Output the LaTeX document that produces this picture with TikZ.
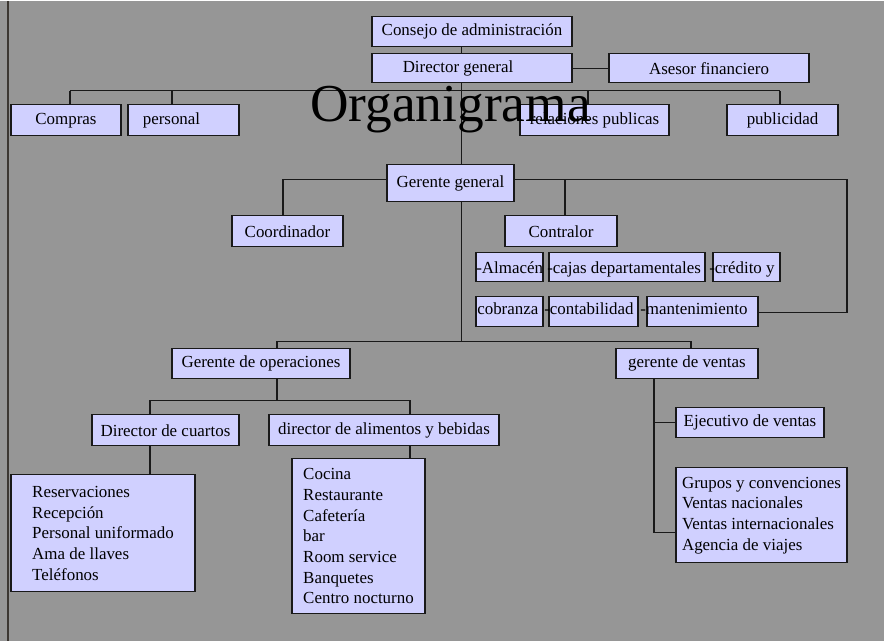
\documentclass[tikz,border=0pt]{standalone}
\usepackage{fontspec}
\setmainfont{Liberation Serif}
\definecolor{bg}{RGB}{150,150,150}
\definecolor{boxfill}{RGB}{208,208,255}
\definecolor{ln}{RGB}{25,25,25}
\begin{document}
\begin{tikzpicture}[x=0.75pt,y=-0.75pt,
  font=\fontsize{12.7}{15.5}\selectfont,
  box/.style={draw=ln, line width=0.9pt, fill=boxfill, inner sep=0pt, align=center},
  wd/.style={minimum width=#1*0.75pt},
  ht/.style={minimum height=#1*0.75pt},
  conn/.style={draw=ln, line width=0.9pt},
  lbl/.style={inner sep=0pt, anchor=base west}]
% background and page frame
\fill[bg] (0,0) rectangle (884,640);
\draw[line width=1.2pt, draw={rgb,255:red,60;green,55;blue,50}] (8,0) -- (8,640);
% top level
\node[box, wd=200, ht=30] (cons) at (472,31) {Consejo de administración};
\node[box, wd=200, ht=29] (dir) at (472,67.5) {\hspace*{-21pt}Director general};
\node[box, wd=200, ht=29] (ase) at (709,67.5) {Asesor financiero};
\node[box, wd=110, ht=31] (comp) at (66,119.5) {Compras};
\node[box, wd=111, ht=31] (pers) at (183.5,119.5) {\hspace*{-18pt}personal};
\node[box, wd=149, ht=31] (rel) at (594.5,119.5) {relaciones publicas};
\node[box, wd=111, ht=31] (pub) at (782.5,119.5) {publicidad};
% gerente general level
\node[box, wd=127, ht=37] (gg) at (450.5,182.5) {Gerente general};
\node[box, wd=111, ht=31] (coord) at (287.5,230.5) {Coordinador};
\node[box, wd=112, ht=31] (contr) at (561,230.5) {Contralor};
% contralor sub boxes
\node[box, wd=67, ht=29] (alm) at (509.5,266.5) {};
\node[box, wd=156, ht=29] (cajas) at (627,266.5) {};
\node[box, wd=67, ht=29] (cred) at (746.5,266.5) {};
\node[box, wd=67, ht=30] (cob) at (509.5,311) {};
\node[box, wd=89, ht=30] (contab) at (593.5,311) {};
\node[box, wd=111, ht=30] (mant) at (702.5,311) {};
\node[lbl] (talm) at (476,272.5) {-Almacén};
\node[lbl] (tcajas) at (547,272.5) {-cajas departamentales};
\node[lbl] (tcred) at (709,272.5) {-crédito y};
\node[lbl] (tcob) at (477,313.5) {cobranza};
\node[lbl] (tcontab) at (544,313.5) {-contabilidad};
\node[lbl] (tmant) at (640,313.5) {-mantenimiento};
% operaciones / ventas
\node[box, wd=178, ht=30] (gop) at (261,363) {Gerente de operaciones};
\node[box, wd=142, ht=30] (gv) at (687,363) {gerente de ventas};
\node[box, wd=147, ht=31] (dc) at (165.5,429.5) {Director de cuartos};
\node[box, wd=230, ht=31] (dab) at (384,429.5) {director de alimentos y bebidas};
\node[box, align=left, wd=184, ht=117] (res) at (103,532.5)
  {Reservaciones\\Recepción\\Personal uniformado\\Ama de llaves\\Teléfonos};
\node[box, align=left, wd=133, ht=155] (coc) at (358.5,535.5)
  {Cocina\\Restaurante\\Cafetería\\bar\\Room service\\Banquetes\\Centro nocturno};
\node[box, wd=148, ht=30] (ejec) at (750,422) {Ejecutivo de ventas};
\node[box, align=left, wd=171, ht=95] (grp) at (761.5,514.5)
  {Grupos y convenciones\\Ventas nacionales\\Ventas internacionales\\Agencia de viajes};
% helper coordinates
\coordinate (T) at (461.5,0);
\coordinate (h1) at (70,90);
\coordinate (h2) at (172,90);
\coordinate (h3) at (588,90);
\coordinate (h4) at (780,90);
\coordinate (gL) at (283,179);
\coordinate (gC) at (565,179);
\coordinate (gR) at (847,179);
\coordinate (gD) at (847,312);
\coordinate (m) at (461.5,341);
\coordinate (mL) at (277,341);
\coordinate (mR) at (691,341);
\coordinate (oL) at (150,400);
\coordinate (oC) at (277,400);
\coordinate (oR) at (410,400);
\coordinate (vT) at (654,0);
\coordinate (v1) at (654,422);
\coordinate (v2) at (654,532);
% connectors
\draw[conn] (cons.south -| T) -- (dir.north -| T);
\draw[conn] (dir.south -| T) -- (gg.north -| T);
\draw[conn] (dir.east) -- (ase.west);
\draw[conn] (h1) -- (h4);
\draw[conn] (h1) -- (comp.north -| h1);
\draw[conn] (h2) -- (pers.north -| h2);
\draw[conn] (h3) -- (rel.north -| h3);
\draw[conn] (h4) -- (pub.north -| h4);
\draw[conn] (gg.west |- gL) -- (gL) -- (coord.north -| gL);
\draw[conn] (gC) -- (contr.north -| gC);
\draw[conn] (gg.east |- gR) -- (gR) -- (gD) -- (mant.east |- gD);
\draw[conn] (gg.south -| m) -- (m);
\draw[conn] (gop.north -| mL) -- (mL) -- (mR) -- (gv.north -| mR);
\draw[conn] (gop.south -| oC) -- (oC);
\draw[conn] (dc.north -| oL) -- (oL) -- (oR) -- (dab.north -| oR);
\draw[conn] (dc.south -| oL) -- (res.north -| oL);
\draw[conn] (dab.south -| oR) -- (coc.north -| oR);
\draw[conn] (gv.south -| vT) -- (v2) -- (grp.west |- v2);
\draw[conn] (v1) -- (ejec.west |- v1);
% title
\node[inner sep=0pt, anchor=base west, font=\fontsize{40}{48}\selectfont] (title) at (310,121) {Organigrama};
\end{tikzpicture}
\end{document}
